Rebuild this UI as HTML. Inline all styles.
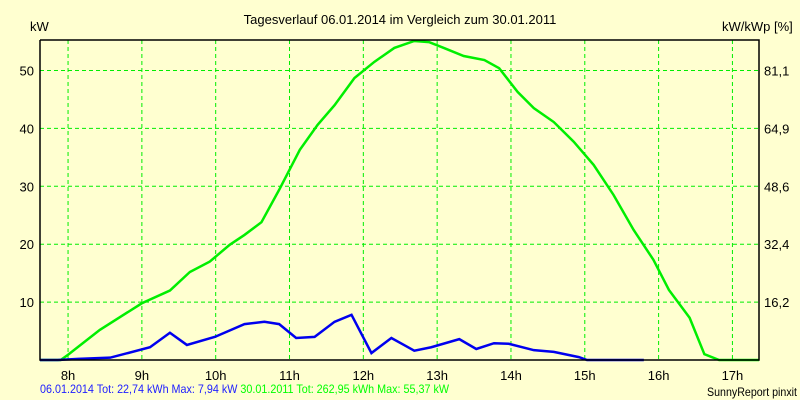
<!DOCTYPE html>
<html><head><meta charset="utf-8"><style>
body{margin:0;background:#ffffd0;}
svg{display:block;font-family:"Liberation Sans",sans-serif;}
</style></head><body>
<svg id="c" width="800" height="400">
<rect width="800" height="400" fill="#ffffd0"/>
<text x="400" y="24" font-size="13" text-anchor="middle" fill="#000">Tagesverlauf 06.01.2014 im Vergleich zum 30.01.2011</text>
<text x="30" y="31" font-size="13">kW</text>
<text x="722" y="31" font-size="13">kW/kWp [%]</text>
<g id="grid"></g><g id="series"></g><g id="axes"></g>
<text x="40" y="393" font-size="12" textLength="409" lengthAdjust="spacingAndGlyphs"><tspan fill="#2020ff">06.01.2014 Tot: 22,74 kWh Max: 7,94 kW</tspan> <tspan fill="#00ff00">30.01.2011 Tot: 262,95 kWh Max: 55,37 kW</tspan></text>
<text x="707" y="396" font-size="12" textLength="90" lengthAdjust="spacingAndGlyphs">SunnyReport pinxit</text>
</svg>
<script>
const hourTicks=[8,9,10,11,12,13,14,15,16,17];
const yTicks=[10,20,30,40,50];
const rightTicks=["16,2","32,4","48,6","64,9","81,1"];
const greenHours=[7.62,7.9,8,8.43,9,9.38,9.65,9.92,10.19,10.39,10.62,10.86,11.14,11.38,11.61,11.88,12.15,12.42,12.69,12.89,13.09,13.36,13.64,13.84,14.09,14.31,14.58,14.85,15.12,15.39,15.66,15.93,16.14,16.42,16.62,16.82,17.36];
const greenVals=[0,0,0.9,5.2,9.8,12,15.2,17,19.9,21.6,23.8,29.4,36.3,40.6,44,48.7,51.5,53.9,55.1,54.9,53.9,52.5,51.8,50.4,46.3,43.5,41.1,37.7,33.7,28.5,22.5,17.3,12.1,7.3,1,0,0];
const blueHours=[7.62,7.86,8.14,8.57,9.11,9.38,9.61,9.99,10.39,10.66,10.86,11.09,11.34,11.61,11.84,12.11,12.38,12.55,12.69,12.92,13.3,13.53,13.77,13.97,14.31,14.58,14.92,15.03,15.8];
const blueVals=[0,0,0.2,0.4,2.2,4.7,2.6,4,6.2,6.6,6.2,3.8,4,6.6,7.8,1.2,3.8,2.6,1.6,2.2,3.6,1.9,2.9,2.8,1.7,1.4,0.5,0,0];
const L=40,R=759,T=40,B=360;
const x=h=>L+(h-7.62)/(17.36-7.62)*(R-L);
const y=v=>B-v*5.79;
const NS="http://www.w3.org/2000/svg";
function mk(tag,attrs,parent){const e=document.createElementNS(NS,tag);for(const k in attrs)e.setAttribute(k,attrs[k]);parent.appendChild(e);return e;}
const grid=document.getElementById('grid'),axes=document.getElementById('axes'),ser=document.getElementById('series');
hourTicks.forEach(h=>{
 const l=mk('line',{x1:x(h),x2:x(h),y1:T,y2:B,stroke:'#00ee00','stroke-dasharray':'4,3'},grid);
 
 
 const t=mk('text',{x:x(h),y:B+20,'font-size':13,'text-anchor':'middle'},axes);t.textContent=h+'h';
 
 
});
yTicks.forEach((v,i)=>{
 const l=mk('line',{x1:L,x2:R,y1:y(v),y2:y(v),stroke:'#00ee00','stroke-dasharray':'4,3'},grid);
 
 
 const t=mk('text',{x:L-6,y:y(v)+5,'font-size':13,'text-anchor':'end'},axes);t.textContent=v;
 
 
 const t2=mk('text',{x:R+5,y:y(v)+5,'font-size':13},axes);t2.textContent=rightTicks[i];
 
 
});
const fr=mk('path',{d:`M${L},${T}V${B}H${R}V${T}H${L}`,fill:'none',stroke:'#000','stroke-width':1.5},axes);


const g=mk('polyline',{points:greenHours.map((h,i)=>x(h)+','+y(greenVals[i])).join(' '),fill:'none',stroke:'#00ee00','stroke-width':2.5},ser);


const b=mk('polyline',{points:blueHours.map((h,i)=>x(h)+','+y(blueVals[i])).join(' '),fill:'none',stroke:'#0000ee','stroke-width':2.5},ser);


</script>
</body></html>
